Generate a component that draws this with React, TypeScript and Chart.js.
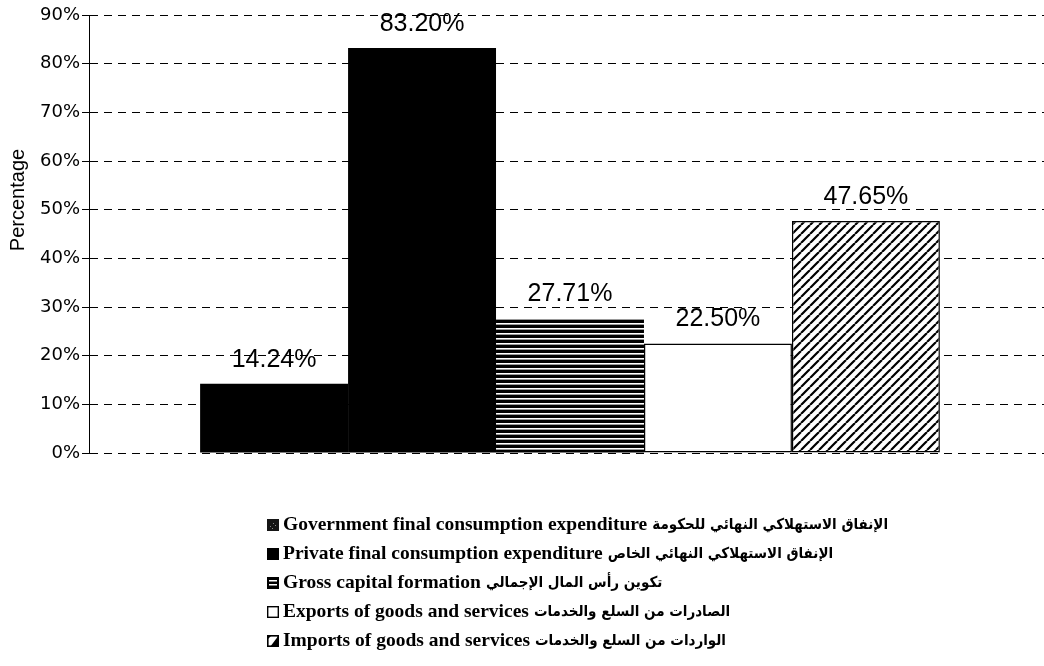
import React, { useEffect, useRef } from "react";
import { Chart, registerables } from "chart.js";

Chart.register(...registerables);

// ---- Data ----
const categories: string[] = [""];
const seriesNames: string[] = [
  "Government final consumption expenditure",
  "Private final consumption expenditure",
  "Gross capital formation",
  "Exports of goods and services",
  "Imports of goods and services",
];
const seriesNamesArabic: string[] = [
  "الإنفاق الاستهلاكي النهائي للحكومة",
  "الإنفاق الاستهلاكي النهائي الخاص",
  "تكوين رأس المال الإجمالي",
  "الصادرات من السلع والخدمات",
  "الواردات من السلع والخدمات",
];
const values: number[] = [14.24, 83.2, 27.71, 22.5, 47.65];
const valueLabels: string[] = ["14.24%", "83.20%", "27.71%", "22.50%", "47.65%"];
const yAxisTitle = "Percentage";
const yMin = 0;
const yMax = 90;
const yStep = 10;

// ---- Styles (layout) ----
const CANVAS_W = 1051;
const CANVAS_H = 666;
const LEGEND_X = 267;
const LEGEND_Y0 = 525;
const LEGEND_DY = 29;
const TITLE_X = 18;
const TITLE_Y = 200;

function makeHLinePattern(ctx: CanvasRenderingContext2D): CanvasPattern | string {
  const c = document.createElement("canvas");
  c.width = 8;
  c.height = 5;
  const g = c.getContext("2d")!;
  g.fillStyle = "#000";
  g.fillRect(0, 0, 8, 5);
  g.fillStyle = "#fff";
  g.fillRect(0, 3, 8, 1);
  g.fillStyle = "#999";
  g.fillRect(0, 4, 8, 1);
  return ctx.createPattern(c, "repeat") || "#333";
}

function makeHatchPattern(ctx: CanvasRenderingContext2D): CanvasPattern | string {
  const s = 9;
  const c = document.createElement("canvas");
  c.width = s;
  c.height = s;
  const g = c.getContext("2d")!;
  g.fillStyle = "#fff";
  g.fillRect(0, 0, s, s);
  g.strokeStyle = "#000";
  g.lineWidth = 2.2;
  g.beginPath();
  for (const k of [-s, 0, s]) {
    g.moveTo(k, s);
    g.lineTo(k + s, 0);
  }
  g.stroke();
  return ctx.createPattern(c, "repeat") || "#888";
}

function drawLegendIcon(ctx: CanvasRenderingContext2D, i: number, x: number, y: number, size: number) {
  ctx.save();
  if (i === 0) {
    ctx.fillStyle = "#151515";
    ctx.fillRect(x, y, size, size);
    ctx.fillStyle = "#888";
    ctx.fillRect(x + 3, y + 7, 1, 1);
    ctx.fillRect(x + 5, y + 9, 1, 1);
    ctx.fillRect(x + 8, y + 6, 1, 1);
    ctx.fillRect(x + 6, y + 4, 1, 1);
  } else if (i === 1) {
    ctx.fillStyle = "#000";
    ctx.fillRect(x, y, size, size);
  } else if (i === 2) {
    ctx.fillStyle = "#000";
    ctx.fillRect(x, y, size, size);
    ctx.fillStyle = "#fff";
    ctx.fillRect(x + 2, y + 3, size - 4, 1.5);
    ctx.fillRect(x + 2, y + 7, size - 4, 1.5);
  } else if (i === 3) {
    ctx.fillStyle = "#fff";
    ctx.fillRect(x, y, size, size);
    ctx.strokeStyle = "#000";
    ctx.lineWidth = 1.4;
    ctx.strokeRect(x + 0.7, y + 0.7, size - 1.4, size - 1.4);
  } else {
    ctx.fillStyle = "#fff";
    ctx.fillRect(x, y, size, size);
    ctx.fillStyle = "#000";
    ctx.beginPath();
    ctx.moveTo(x + size, y);
    ctx.lineTo(x + size, y + size);
    ctx.lineTo(x + 3, y + size);
    ctx.closePath();
    ctx.fill();
    ctx.beginPath();
    ctx.moveTo(x, y);
    ctx.lineTo(x + 5, y);
    ctx.lineTo(x, y + 5);
    ctx.closePath();
    ctx.fill();
    ctx.strokeStyle = "#000";
    ctx.lineWidth = 1.6;
    ctx.strokeRect(x + 0.8, y + 0.8, size - 1.6, size - 1.6);
  }
  ctx.restore();
}

const valueLabelPlugin = {
  id: "valueLabelPlugin",
  afterDatasetsDraw(chart: any) {
    const ctx: CanvasRenderingContext2D = chart.ctx;
    ctx.save();
    ctx.font = "25px 'Liberation Sans', Arial, sans-serif";
    ctx.fillStyle = "#000";
    ctx.textAlign = "center";
    ctx.textBaseline = "middle";
    chart.data.datasets.forEach((_ds: any, i: number) => {
      const el = chart.getDatasetMeta(i).data[0];
      if (!el) return;
      ctx.fillText(valueLabels[i], el.x, el.y - 24);
    });
    ctx.restore();
  },
};

const axisTitlePlugin = {
  id: "axisTitlePlugin",
  afterDraw(chart: any) {
    const ctx: CanvasRenderingContext2D = chart.ctx;
    ctx.save();
    ctx.translate(TITLE_X, TITLE_Y);
    ctx.rotate(-Math.PI / 2);
    ctx.font = "20px 'Liberation Sans', Arial, sans-serif";
    ctx.fillStyle = "#000";
    ctx.textAlign = "center";
    ctx.textBaseline = "middle";
    ctx.fillText(yAxisTitle, 0, 0);
    ctx.restore();
  },
};

const customLegendPlugin = {
  id: "customLegendPlugin",
  afterDraw(chart: any) {
    const ctx: CanvasRenderingContext2D = chart.ctx;
    ctx.save();
    ctx.fillStyle = "#000";
    ctx.textAlign = "left";
    ctx.textBaseline = "middle";
    seriesNames.forEach((name, i) => {
      const x = LEGEND_X;
      const y = LEGEND_Y0 + i * LEGEND_DY;
      drawLegendIcon(ctx, i, x, y - 6, 12);
      ctx.font = "bold 19.5px 'Liberation Serif', 'Times New Roman', serif";
      const tx = x + 16;
      ctx.fillText(name, tx, y);
      const w = ctx.measureText(name).width;
      ctx.font = "bold 15px 'DejaVu Sans Condensed', 'DejaVu Sans', sans-serif";
      ctx.fillText(seriesNamesArabic[i], tx + w + 5, y);
    });
    ctx.restore();
  },
};

export default function App() {
  const canvasRef = useRef<HTMLCanvasElement | null>(null);

  useEffect(() => {
    const canvas = canvasRef.current;
    if (!canvas) return;
    const ctx = canvas.getContext("2d")!;
    const hlines = makeHLinePattern(ctx);
    const hatch = makeHatchPattern(ctx);

    const fills: any[] = ["#000", "#000", hlines, "#fff", hatch];
    const borders: number[] = [0, 0, 0, 1.5, 1.5];

    const chart = new Chart(canvas, {
      type: "bar",
      data: {
        labels: categories,
        datasets: seriesNames.map((name, i) => ({
          label: name,
          data: [values[i]],
          backgroundColor: fills[i],
          borderColor: "#000",
          borderWidth: borders[i],
          borderSkipped: false,
          categoryPercentage: 0.769,
          barPercentage: 1.0,
        })),
      },
      options: {
        responsive: false,
        animation: false,
        devicePixelRatio: 1,
        events: [],
        layout: { padding: { top: 15, right: 0, bottom: 213, left: 0 } },
        plugins: {
          legend: { display: false },
          tooltip: { enabled: false },
        },
        scales: {
          x: { display: false },
          y: {
            min: yMin,
            max: yMax,
            afterFit: (scale: any) => {
              scale.width = 89;
            },
            ticks: {
              stepSize: yStep,
              color: "#000",
              padding: 2,
              font: { family: "'DejaVu Sans', sans-serif", size: 18 },
              callback: (v: any) => `${v}%`,
            },
            title: { display: false },
            grid: {
              color: "#000",
              lineWidth: 1,
              tickLength: 7,
              tickColor: "#000",
              tickBorderDash: [],
            } as any,
            border: { display: true, color: "#000", width: 1, dash: [8, 6] },
          },
        },
      },
      plugins: [valueLabelPlugin, axisTitlePlugin, customLegendPlugin],
    });

    return () => chart.destroy();
  }, []);

  return (
    <div style={{ position: "absolute", left: 0, top: 0, width: 1044, height: 666, background: "#fff", overflow: "hidden" }}>
      <canvas ref={canvasRef} width={CANVAS_W} height={CANVAS_H} style={{ display: "block" }} />
    </div>
  );
}
